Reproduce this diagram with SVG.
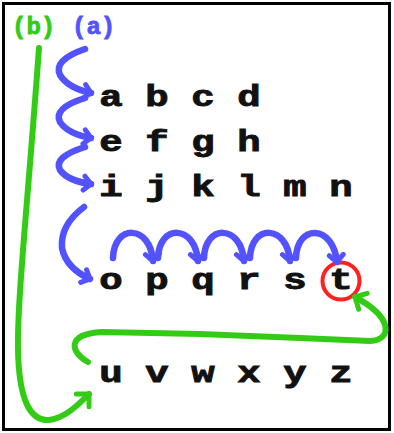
<svg xmlns="http://www.w3.org/2000/svg" width="394" height="433" viewBox="0 0 394 433">
<style>
.ltr{font-family:"Liberation Mono","Courier New",monospace;font-weight:bold;font-size:30px;fill:#111;stroke:#111;stroke-width:0.9;text-anchor:middle}
.lbl{font-family:"Liberation Mono","Courier New",monospace;font-weight:bold;font-size:24px;stroke-width:0.8}
.blue{fill:none;stroke:#5252ff;stroke-width:6.5;stroke-linecap:round;stroke-linejoin:round}
.green{fill:none;stroke:#33cc15;stroke-width:6;stroke-linecap:round;stroke-linejoin:round}
</style>
<defs>
<marker id="ab" markerUnits="userSpaceOnUse" markerWidth="20" markerHeight="20" refX="10" refY="10" orient="auto">
<path d="M3,3 L10,10 L3,17" fill="none" stroke="#5252ff" stroke-width="5" stroke-linecap="round" stroke-linejoin="round"/>
</marker>
<marker id="ag" markerUnits="userSpaceOnUse" markerWidth="24" markerHeight="24" refX="12" refY="12" orient="auto">
<path d="M3,3 L12,12 L3,21" fill="none" stroke="#33cc15" stroke-width="5" stroke-linecap="round" stroke-linejoin="round"/>
</marker>
</defs>
<rect x="3.5" y="3.5" width="386" height="426" fill="#fff" stroke="#000" stroke-width="3"/>
<g id="label-b"><text class="lbl" x="12" y="34" fill="#33cc15" stroke="#33cc15">(b)</text></g>
<g id="label-a"><text class="lbl" x="72" y="34" fill="#5252ff" stroke="#5252ff">(a)</text></g>
<g id="letters">
<g id="n-a"><text class="ltr" transform="translate(111,106) scale(1.3,1)">a</text></g>
<g id="n-b"><text class="ltr" transform="translate(157,106) scale(1.3,1)">b</text></g>
<g id="n-c"><text class="ltr" transform="translate(203,106) scale(1.3,1)">c</text></g>
<g id="n-d"><text class="ltr" transform="translate(249,106) scale(1.3,1)">d</text></g>
<g id="n-e"><text class="ltr" transform="translate(111,151) scale(1.3,1)">e</text></g>
<g id="n-f"><text class="ltr" transform="translate(157,151) scale(1.3,1)">f</text></g>
<g id="n-g"><text class="ltr" transform="translate(203,151) scale(1.3,1)">g</text></g>
<g id="n-h"><text class="ltr" transform="translate(249,151) scale(1.3,1)">h</text></g>
<g id="n-i"><text class="ltr" transform="translate(111,196) scale(1.3,1)">i</text></g>
<g id="n-j"><text class="ltr" transform="translate(157,196) scale(1.3,1)">j</text></g>
<g id="n-k"><text class="ltr" transform="translate(203,196) scale(1.3,1)">k</text></g>
<g id="n-l"><text class="ltr" transform="translate(249,196) scale(1.3,1)">l</text></g>
<g id="n-m"><text class="ltr" transform="translate(295,196) scale(1.3,1)">m</text></g>
<g id="n-n"><text class="ltr" transform="translate(341,196) scale(1.3,1)">n</text></g>
<g id="n-o"><text class="ltr" transform="translate(111,289) scale(1.3,1)">o</text></g>
<g id="n-p"><text class="ltr" transform="translate(157,289) scale(1.3,1)">p</text></g>
<g id="n-q"><text class="ltr" transform="translate(203,289) scale(1.3,1)">q</text></g>
<g id="n-r"><text class="ltr" transform="translate(249,289) scale(1.3,1)">r</text></g>
<g id="n-s"><text class="ltr" transform="translate(295,289) scale(1.3,1)">s</text></g>
<g id="n-t"><circle cx="341" cy="281" r="18.5" fill="none" stroke="#ff2020" stroke-width="4"/><text class="ltr" transform="translate(341,289) scale(1.3,1)">t</text></g>
<g id="n-u"><text class="ltr" transform="translate(111,382) scale(1.3,1)">u</text></g>
<g id="n-v"><text class="ltr" transform="translate(157,382) scale(1.3,1)">v</text></g>
<g id="n-w"><text class="ltr" transform="translate(203,382) scale(1.3,1)">w</text></g>
<g id="n-x"><text class="ltr" transform="translate(249,382) scale(1.3,1)">x</text></g>
<g id="n-y"><text class="ltr" transform="translate(295,382) scale(1.3,1)">y</text></g>
<g id="n-z"><text class="ltr" transform="translate(341,382) scale(1.3,1)">z</text></g>
</g>
<g id="connectors">
<path class="blue" marker-end="url(#ab)" d="M85,49 Q53,60 60,75 Q68,88 91,93"/>
<path class="blue" marker-end="url(#ab)" d="M85,98 Q53,108 60,122 Q68,134 91,138"/>
<path class="blue" marker-end="url(#ab)" d="M85,147 Q53,157 60,170 Q68,181 91,184"/>
<path class="blue" marker-end="url(#ab)" d="M84,207 Q60,225 62,248 Q66,268 90,279"/>
<path class="blue" marker-end="url(#ab)" d="M113,258 C114,224 150,224 153,261"/>
<path class="blue" marker-end="url(#ab)" d="M158,258 C159,224 195,224 198,261"/>
<path class="blue" marker-end="url(#ab)" d="M204,258 C205,224 241,224 244,261"/>
<path class="blue" marker-end="url(#ab)" d="M250,258 C251,224 287,224 290,261"/>
<path class="blue" marker-end="url(#ab)" d="M296,258 C297,224 333,224 337,262"/>
<path class="green" marker-end="url(#ag)" d="M39,48 C28,200 17,300 18,350 C19,400 30,421 49,420 C65,418 78,405 89,394"/>
<path class="green" marker-end="url(#ag)" d="M88,362 C70,352 66,334 102,332 L200,334 L300,338 L370,341 C392,340 394,318 355,297"/>
</g>
</svg>
